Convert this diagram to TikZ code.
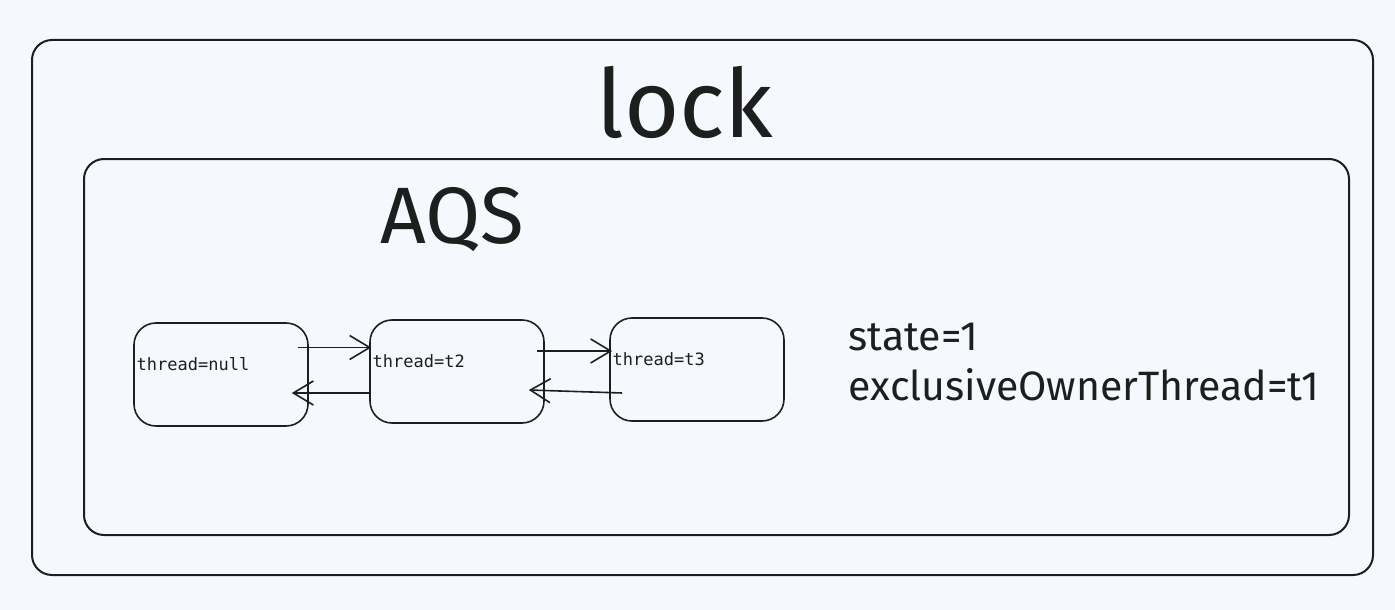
\documentclass[tikz,border=0pt]{standalone}
\usepackage{fontspec}
\setmainfont{Fira Sans}
\setmonofont{DejaVu Sans Mono}
\usetikzlibrary{arrows.meta}
\definecolor{canvas}{RGB}{245,249,253}
\definecolor{ink}{RGB}{30,30,30}
\tikzstyle{frame}=[draw=ink, line width=2pt, rounded corners=20pt]
\tikzstyle{threadbox}=[draw=ink, line width=1.6pt, rounded corners=22pt,
minimum width=174pt, minimum height=103pt]
\tikzstyle{threadtext}=[anchor=west, yshift=10pt, text=ink,
font=\ttfamily\fontsize{17}{19}\selectfont]
\tikzstyle{link}=[draw=ink, line width=1.6pt, -{Straight Barb[length=20pt,width=24pt]}]
\begin{document}
\begin{tikzpicture}[x=1pt,y=-1pt]
\useasboundingbox (0,0) rectangle (1395,610);
\fill[canvas] (0,0) rectangle (1395,610);
% frames
\node[frame, minimum width=1341pt, minimum height=535pt](lockbox) at (702.5,307.5) {};
\node[frame, minimum width=1265pt, minimum height=376pt](aqsbox) at (716.5,347) {};
\node[anchor=base, text=ink, font=\fontsize{95}{100}\selectfont](locktitle) at (685,137) {lock};
\node[anchor=base, text=ink, font=\fontsize{80}{84}\selectfont](aqstitle) at (452,243) {AQS};
% queue
\node[threadbox, label={[threadtext]west:thread=null}](node1) at (221,374.5) {};
\node[threadbox, label={[threadtext]west:thread=t2}](node2) at (457,371.5) {};
\node[threadbox, label={[threadtext]west:thread=t3}](node3) at (697,369.5) {};
\draw[link]([xshift=-11pt,yshift=27pt]node1.east) -- ([xshift=2pt,yshift=24pt]node2.west);
\draw[link]([xshift=1pt,yshift=-21.5pt]node2.west) -- ([xshift=-17pt,yshift=-18.5pt]node1.east);
\draw[link]([xshift=-8pt,yshift=20.5pt]node2.east) -- ([xshift=3pt,yshift=18.5pt]node3.west);
\draw[link]([xshift=13pt,yshift=-23.5pt]node3.west) -- ([xshift=-16pt,yshift=-18.5pt]node2.east);
% fields
\node[anchor=base west, text=ink, font=\fontsize{41}{45}\selectfont](statetext) at (845,350) {state=1};
\node[anchor=base west, text=ink, font=\fontsize{41}{45}\selectfont](ownertext) at (845,400) {exclusiveOwnerThread=t1};
\end{tikzpicture}
\end{document}
